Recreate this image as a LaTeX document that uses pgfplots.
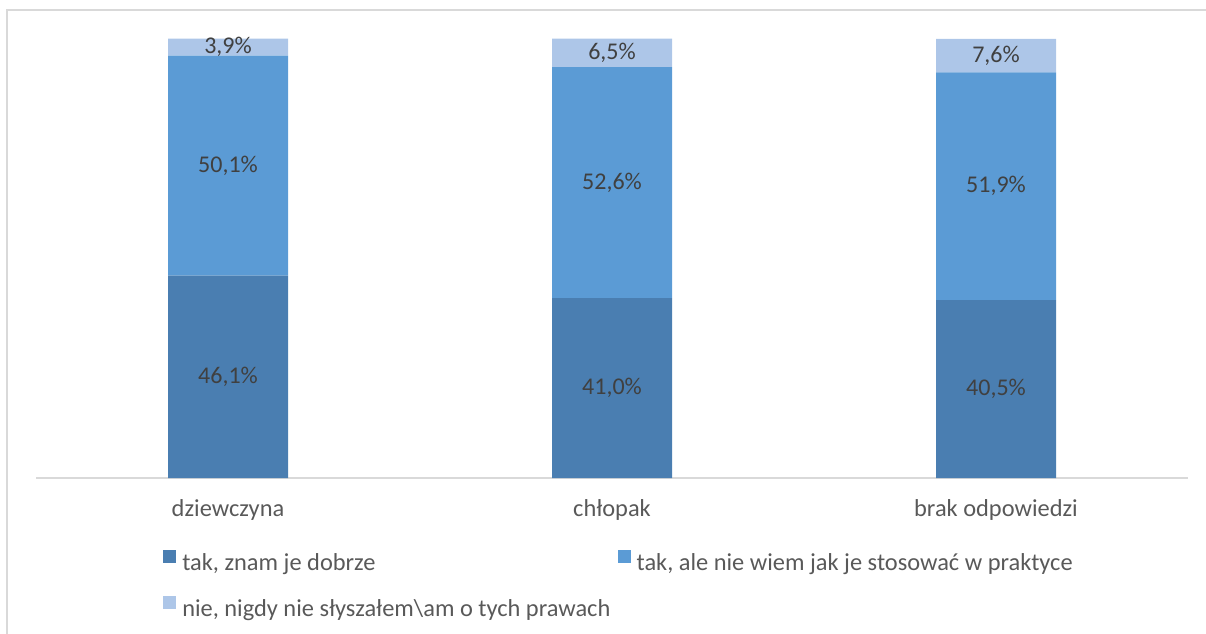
\documentclass[border=0pt]{standalone}
\usepackage{pgfplots}
\pgfplotsset{compat=1.18}
\usepackage{fontspec}
\setmainfont{Carlito}
\definecolor{cDark}{HTML}{4A7EB1}
\definecolor{cMid}{HTML}{5B9BD5}
\definecolor{cLight}{HTML}{ADC6E8}
\definecolor{cGrid}{HTML}{D9D9D9}
\definecolor{cTick}{HTML}{595959}
\definecolor{cLab}{HTML}{404040}
\begin{document}
\begin{tikzpicture}[font=\fontsize{18.3pt}{22pt}\selectfont]
\useasboundingbox (0pt,0pt) rectangle (904.5pt,-475.5pt);
\draw[cGrid, line width=1.5pt] (5.25pt,-476pt) -- (5.25pt,-7.5pt) -- (905pt,-7.5pt);
\begin{axis}[
  at={(27pt,-358.5pt)}, anchor=south west,
  scale only axis, width=864pt, height=329.25pt,
  xmin=-0.5, xmax=2.5, ymin=0, ymax=100,
  ybar stacked, bar width=90pt,
  axis y line=none, axis x line*=bottom,
  x axis line style={cGrid, line width=1.2pt, -},
  xtick=data, xticklabels={dziewczyna, chłopak, brak odpowiedzi},
  major tick length=0pt,
  xticklabel style={anchor=base, yshift=-28.5pt, text=cTick, font=\fontsize{18.3pt}{22pt}\selectfont},
  legend style={draw=none, fill=none, at={(95.25pt,-54pt)}, anchor=north west,
    legend columns=2, font=\fontsize{18.3pt}{22pt}\selectfont\color{cTick},
    /tikz/every even column/.append style={column sep=3.5pt},
    /tikz/every odd column/.append style={column sep=2.5pt},
    row sep=15.5pt, inner sep=0pt},
  legend cell align=left,
  legend image code/.code={\fill[#1,draw=none] (0pt,0pt) rectangle (9.75pt,9.75pt);},
  clip=false,
]
\addplot[fill=cDark, draw=none] coordinates {(0,46.1) (1,41.0) (2,40.5)};
\addplot[fill=cMid, draw=none] coordinates {(0,50.1) (1,52.6) (2,51.9)};
\addplot[fill=cLight, draw=none] coordinates {(0,3.9) (1,6.5) (2,7.6)};
\legend{tak{,} znam je dobrze, tak{,} ale nie wiem jak je stosować w praktyce, nie{,} nigdy nie słyszałem\textbackslash am o tych prawach}
\end{axis}
\begin{axis}[
  at={(27pt,-358.5pt)}, anchor=south west,
  scale only axis, width=864pt, height=329.25pt,
  xmin=-0.5, xmax=2.5, ymin=0, ymax=100,
  hide axis, clip=false,
]
\addplot[draw=none, mark=none, nodes near coords, point meta=explicit symbolic,
  nodes near coords align={center},
  every node near coord/.append style={text=cLab, font=\fontsize{18pt}{22pt}\selectfont}]
  coordinates {
  (0,23.05) [46,1\%] (1,20.5) [41,0\%] (2,20.25) [40,5\%]
  (0,71.15) [50,1\%] (1,67.3) [52,6\%] (2,66.45) [51,9\%]
  (0,98.15) [3,9\%] (1,96.85) [6,5\%] (2,96.2) [7,6\%]
  };
\end{axis}
\end{tikzpicture}
\end{document}
